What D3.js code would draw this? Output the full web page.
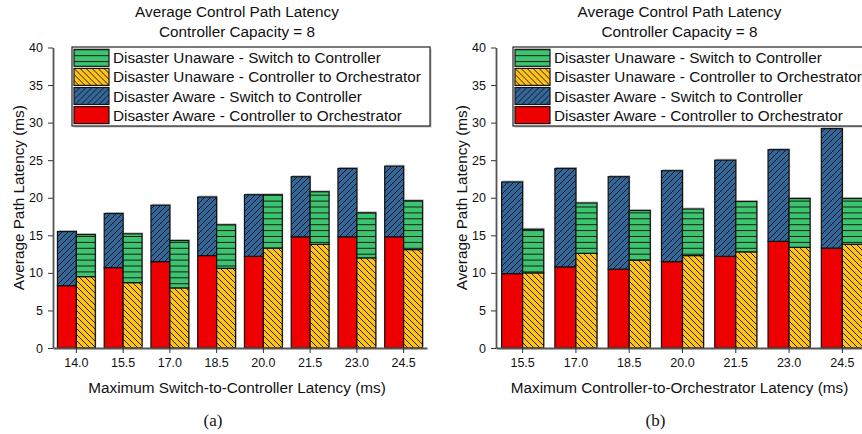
<!DOCTYPE html>
<html>
<head>
<meta charset="utf-8">
<script src="https://cdn.jsdelivr.net/npm/d3@7"></script>
<style>
  body { margin: 0; background: #fff; }
  svg { display: block; }
</style>
</head>
<body>
<script>
// Chart dimensions
const width = 862;
const height = 434;
const yTop = 47.5;
const yBottom = 348;

// Panel (a) data : x categories and segment values (ms)
const leftCategories = ["14.0", "15.5", "17.0", "18.5", "20.0", "21.5", "23.0", "24.5"];
const leftAwareC2O   = [8.3, 10.7, 11.5, 12.3, 12.2, 14.8, 14.8, 14.8];
const leftAwareS2C   = [7.2, 7.2, 7.5, 7.8, 8.2, 8.0, 9.1, 9.4];
const leftUnawareC2O = [9.5, 8.7, 8.0, 10.6, 13.3, 13.8, 12.0, 13.1];
const leftUnawareS2C = [5.6, 6.5, 6.3, 5.8, 7.1, 7.0, 6.0, 6.5];

// Panel (b) data
const rightCategories = ["15.5", "17.0", "18.5", "20.0", "21.5", "23.0", "24.5"];
const rightAwareC2O   = [9.9, 10.8, 10.5, 11.5, 12.2, 14.2, 13.3];
const rightAwareS2C   = [12.2, 13.1, 12.3, 12.1, 12.8, 12.2, 15.9];
const rightUnawareC2O = [10.0, 12.6, 11.7, 12.3, 12.8, 13.4, 13.8];
const rightUnawareS2C = [5.8, 6.7, 6.6, 6.2, 6.7, 6.5, 6.1];

// Axis ticks and labels
const yTicks = [0, 5, 10, 15, 20, 25, 30, 35, 40];
const titleLines = ["Average Control Path Latency", "Controller Capacity = 8"];
const legendLabels = [
  "Disaster Unaware - Switch to Controller",
  "Disaster Unaware - Controller to Orchestrator",
  "Disaster Aware - Switch to Controller",
  "Disaster Aware - Controller to Orchestrator"
];

const colors = { red: "#ee0000", blue: "#336699", yellow: "#ffc21a", green: "#3cc46e" };

const svg = d3.select("body")
  .append("svg")
  .attr("width", width)
  .attr("height", height)
  .style("font-family", "'Liberation Sans', Arial, sans-serif");

// Hatch patterns
const defs = svg.append("defs");

function diagPattern(id, fill, forward) {
  const s = 6;
  const p = defs.append("pattern")
    .attr("id", id)
    .attr("patternUnits", "userSpaceOnUse")
    .attr("width", s)
    .attr("height", s);
  p.append("rect").attr("width", s).attr("height", s).attr("fill", fill);
  const d = forward
    ? `M0,${s} L${s},0 M${-s/4},${s/4} L${s/4},${-s/4} M${s*3/4},${s*5/4} L${s*5/4},${s*3/4}`
    : `M0,0 L${s},${s} M${-s/4},${s*3/4} L${s/4},${s*5/4} M${s*3/4},${-s/4} L${s*5/4},${s/4}`;
  p.append("path").attr("d", d).attr("stroke", "#111").attr("stroke-width", 0.9);
}
diagPattern("hatchBlue", colors.blue, true);
diagPattern("hatchYellow", colors.yellow, false);

const gp = defs.append("pattern")
  .attr("id", "hatchGreen")
  .attr("patternUnits", "userSpaceOnUse")
  .attr("width", 10)
  .attr("height", 5.9);
gp.append("rect").attr("width", 10).attr("height", 5.9).attr("fill", colors.green);
gp.append("line").attr("x1", 0).attr("x2", 10).attr("y1", 0.5).attr("y2", 0.5)
  .attr("stroke", "#1a1a1a").attr("stroke-width", 1);

const legendFills = ["url(#hatchGreen)", "url(#hatchYellow)", "url(#hatchBlue)", colors.red];

function drawPanel(o) {
  const g = svg.append("g");

  const xScale = d3.scaleBand()
    .domain(o.categories)
    .range([o.x0, o.x1])
    .paddingInner(o.pad)
    .paddingOuter(o.pad / 2);

  const sub = d3.scaleBand()
    .domain(["aware", "unaware"])
    .range([0, xScale.bandwidth()]);

  const yScale = d3.scaleLinear()
    .domain([0, 40])
    .range([yBottom, yTop]);

  // build rows for the stacks
  const awareRows = o.categories.map((c, i) => ({ cat: c, c2o: o.awareC2O[i], s2c: o.awareS2C[i] }));
  const unawareRows = o.categories.map((c, i) => ({ cat: c, c2o: o.unawareC2O[i], s2c: o.unawareS2C[i] }));
  const stack = d3.stack().keys(["c2o", "s2c"]);

  const groups = [
    { key: "aware", series: stack(awareRows), fills: [colors.red, "url(#hatchBlue)"] },
    { key: "unaware", series: stack(unawareRows), fills: ["url(#hatchYellow)", "url(#hatchGreen)"] }
  ];

  // shadows under bars
  groups.forEach(grp => {
    const top = grp.series[1];
    g.selectAll(null)
      .data(top)
      .enter()
      .append("rect")
        .attr("x", d => xScale(d.data.cat) + sub(grp.key) + 1)
        .attr("y", d => yScale(d[1]) - 1.5)
        .attr("width", sub.bandwidth())
        .attr("height", d => yBottom - yScale(d[1]))
        .attr("fill", "#bbb");
  });

  groups.forEach(grp => {
    grp.series.forEach((s, k) => {
      g.selectAll(null)
        .data(s)
        .enter()
        .append("rect")
          .attr("x", d => xScale(d.data.cat) + sub(grp.key))
          .attr("y", d => yScale(d[1]))
          .attr("width", sub.bandwidth())
          .attr("height", d => yScale(d[0]) - yScale(d[1]))
          .attr("fill", grp.fills[k])
          .attr("stroke", "#111")
          .attr("stroke-width", 1.2);
    });
  });

  // y axis
  const yAxis = g.append("g")
    .attr("transform", `translate(${o.x0},0)`)
    .call(d3.axisLeft(yScale).tickValues(yTicks).tickSize(5).tickSizeOuter(0).tickPadding(5));
  yAxis.selectAll("text").attr("font-size", "12.5px").attr("fill", "#111");
  yAxis.selectAll(".tick line").attr("stroke", "#333");
  yAxis.select(".domain").attr("stroke", "#555").attr("stroke-width", 1.8);
  yAxis.attr("font-family", null);

  // x axis
  const xAxis = g.append("g")
    .attr("transform", `translate(0,${yBottom})`)
    .call(d3.axisBottom(xScale).tickSize(5).tickSizeOuter(0).tickPadding(5.5));
  xAxis.selectAll("text").attr("font-size", "12.5px").attr("fill", "#111");
  xAxis.selectAll(".tick line").attr("stroke", "#333");
  xAxis.select(".domain").attr("stroke", "#555").attr("stroke-width", 1.8);
  xAxis.attr("font-family", null);

  // titles
  const cx = (o.x0 + o.x1) / 2 - 3;
  g.selectAll(".title")
    .data(titleLines)
    .enter()
    .append("text")
      .attr("x", cx)
      .attr("y", (d, i) => 17 + i * 20)
      .attr("text-anchor", "middle")
      .attr("font-size", "15.3px")
      .attr("fill", "#111")
      .text(d => d);

  g.append("text")
    .attr("x", cx)
    .attr("y", 392.5)
    .attr("text-anchor", "middle")
    .attr("font-size", "15.3px")
    .attr("fill", "#111")
    .text(o.xTitle);

  g.append("text")
    .attr("transform", `translate(${o.x0 - 29.5},${(yTop + yBottom) / 2}) rotate(-90)`)
    .attr("text-anchor", "middle")
    .attr("font-size", "15.3px")
    .attr("fill", "#111")
    .text("Average Path Latency (ms)");

  g.append("text")
    .attr("x", cx - 24)
    .attr("y", 426)
    .attr("text-anchor", "middle")
    .attr("font-family", "'Liberation Serif', 'Times New Roman', serif")
    .attr("font-size", "17px")
    .attr("fill", "#111")
    .text(o.label);

  // legend
  const lx = o.x0 + o.legendOffset;
  g.append("rect")
    .attr("x", lx + 1.5).attr("y", 48.5)
    .attr("width", 358).attr("height", 79)
    .attr("fill", "#bbb");
  g.append("rect")
    .attr("x", lx).attr("y", 47)
    .attr("width", 358).attr("height", 79)
    .attr("fill", "#fff")
    .attr("stroke", "#222")
    .attr("stroke-width", 1.2);

  const items = g.selectAll(".legend-item")
    .data(legendLabels)
    .enter()
    .append("g")
      .attr("transform", (d, i) => `translate(${lx + 2},${49.3 + i * 19.1})`);
  items.append("rect")
    .attr("width", 35)
    .attr("height", 17)
    .attr("fill", (d, i) => legendFills[i])
    .attr("stroke", "#111")
    .attr("stroke-width", 1.2);
  items.append("text")
    .attr("x", 39)
    .attr("y", 14)
    .attr("font-size", "15.3px")
    .attr("fill", "#111")
    .text(d => d);
}

drawPanel({
  categories: leftCategories,
  awareC2O: leftAwareC2O, awareS2C: leftAwareS2C,
  unawareC2O: leftUnawareC2O, unawareS2C: leftUnawareS2C,
  x0: 53, x1: 427, pad: 0.19, legendOffset: 19,
  xTitle: "Maximum Switch-to-Controller Latency (ms)",
  label: "(a)"
});

drawPanel({
  categories: rightCategories,
  awareC2O: rightAwareC2O, awareS2C: rightAwareS2C,
  unawareC2O: rightUnawareC2O, unawareS2C: rightUnawareS2C,
  x0: 496, x1: 869, pad: 0.21, legendOffset: 17,
  xTitle: "Maximum Controller-to-Orchestrator Latency (ms)",
  label: "(b)"
});
</script>
</body>
</html>
